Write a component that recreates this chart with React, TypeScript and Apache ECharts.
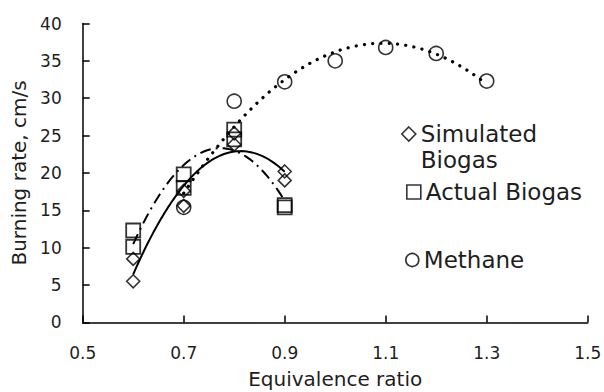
import React, { useEffect, useRef } from 'react';
import * as echarts from 'echarts';

// Data
const simulatedX = [0.6, 0.6, 0.7, 0.7, 0.8, 0.8, 0.9, 0.9];
const simulatedY = [5.5, 8.5, 15.6, 17.6, 23.8, 25.3, 20.2, 19.0];
const actualX = [0.6, 0.6, 0.7, 0.7, 0.8, 0.8, 0.9, 0.9];
const actualY = [10.1, 12.3, 18.0, 19.8, 24.5, 25.8, 15.4, 15.7];
const methaneX = [0.7, 0.8, 0.9, 1.0, 1.1, 1.2, 1.3];
const methaneY = [15.4, 29.6, 32.2, 35.0, 36.8, 36.0, 32.3];
const seriesNames = ['Simulated Biogas', 'Actual Biogas', 'Methane'];

// Least-squares 2nd-order polynomial trendline (as in the source spreadsheet)
function quadFit(xs: number[], ys: number[]): number[] {
  const S = [0, 0, 0, 0, 0];
  const T = [0, 0, 0];
  for (let i = 0; i < xs.length; i++) {
    for (let k = 0; k < 5; k++) S[k] += Math.pow(xs[i], k);
    for (let k = 0; k < 3; k++) T[k] += ys[i] * Math.pow(xs[i], k);
  }
  const M = [
    [S[0], S[1], S[2], T[0]],
    [S[1], S[2], S[3], T[1]],
    [S[2], S[3], S[4], T[2]],
  ];
  for (let c = 0; c < 3; c++) {
    for (let r = c + 1; r < 3; r++) {
      const f = M[r][c] / M[c][c];
      for (let k = c; k < 4; k++) M[r][k] -= f * M[c][k];
    }
  }
  const coef = [0, 0, 0];
  for (let r = 2; r >= 0; r--) {
    let s = M[r][3];
    for (let k = r + 1; k < 3; k++) s -= M[r][k] * coef[k];
    coef[r] = s / M[r][r];
  }
  return coef;
}

function trend(xs: number[], ys: number[]): number[][] {
  const c = quadFit(xs, ys);
  const lo = Math.min(...xs);
  const hi = Math.max(...xs);
  const pts: number[][] = [];
  const n = 60;
  for (let i = 0; i <= n; i++) {
    const x = lo + ((hi - lo) * i) / n;
    pts.push([x, c[0] + c[1] * x + c[2] * x * x]);
  }
  return pts;
}

const zip = (xs: number[], ys: number[]) => xs.map((x, i) => [x, ys[i]]);

const FONT = 'DejaVu Sans';
const INK = '#1e1e1e';

export default function App() {
  const ref = useRef<HTMLDivElement>(null);
  useEffect(() => {
    if (!ref.current) return;
    const chart = echarts.init(ref.current, undefined, { renderer: 'svg' });
    const markerStyle = { color: 'rgba(0,0,0,0)', borderColor: '#000', borderWidth: 1.6 };
    const legendBase = {
      orient: 'vertical' as const,
      padding: 0,
      itemGap: 0,
      selectedMode: false,
      itemStyle: { color: 'rgba(0,0,0,0)', borderColor: '#000', borderWidth: 1.6 },
      textStyle: { fontFamily: FONT, fontSize: 23, color: INK, lineHeight: 26 },
    };
    chart.setOption({
      animation: false,
      backgroundColor: '#fff',
      grid: {
        left: 82.7,
        right: 16.3,
        top: 23.5,
        bottom: 69.6,
        containLabel: false,
        outerBoundsMode: 'none',
      },
      xAxis: {
        type: 'value',
        min: 0.5,
        max: 1.5,
        interval: 0.2,
        name: 'Equivalence ratio',
        nameLocation: 'middle',
        nameGap: 46,
        nameTextStyle: { fontFamily: FONT, fontSize: 20, color: INK, lineHeight: 22 },
        axisLine: { lineStyle: { color: '#000', width: 1.5 } },
        axisTick: { show: true, inside: true, length: 7, lineStyle: { color: '#000', width: 1.5 } },
        axisLabel: { fontFamily: FONT, fontSize: 17, color: INK, margin: 22, formatter: (v: number) => v.toFixed(1) },
        splitLine: { show: false },
      },
      yAxis: {
        type: 'value',
        min: 0,
        max: 40,
        interval: 5,
        name: 'Burning rate, cm/s',
        nameLocation: 'middle',
        nameGap: 52,
        nameTextStyle: { fontFamily: FONT, fontSize: 20, color: INK },
        axisLine: { show: true, lineStyle: { color: '#000', width: 1.5 } },
        axisTick: { show: true, inside: true, length: 7, lineStyle: { color: '#000', width: 1.5 } },
        axisLabel: { fontFamily: FONT, fontSize: 17, color: INK, margin: 21 },
        splitLine: { show: false },
      },
      legend: [
        {
          ...legendBase,
          data: [seriesNames[0]],
          left: 401,
          top: 95,
          itemWidth: 14,
          itemHeight: 14,
          formatter: () => ' \nSimulated\nBiogas',
        },
        { ...legendBase, data: [seriesNames[1]], left: 406, top: 179, itemWidth: 14, itemHeight: 14 },
        { ...legendBase, data: [seriesNames[2]], left: 405, top: 247, itemWidth: 13, itemHeight: 13 },
      ],
      series: [
        {
          type: 'line',
          name: 'Simulated trend',
          data: trend(simulatedX, simulatedY),
          showSymbol: false,
          symbol: 'none',
          silent: true,
          lineStyle: { color: '#000', width: 2, type: 'solid' },
        },
        {
          type: 'line',
          name: 'Actual trend',
          data: trend(actualX, actualY),
          showSymbol: false,
          symbol: 'none',
          silent: true,
          lineStyle: { color: '#000', width: 2, type: [11, 5, 2, 5] },
        },
        {
          type: 'line',
          name: 'Methane trend',
          data: trend(methaneX, methaneY),
          showSymbol: false,
          symbol: 'none',
          silent: true,
          lineStyle: { color: '#000', width: 3.2, type: [0.1, 8.2], cap: 'round' },
        },
        {
          type: 'scatter',
          name: seriesNames[0],
          data: zip(simulatedX, simulatedY),
          symbol: 'diamond',
          symbolSize: 13,
          itemStyle: markerStyle,
        },
        {
          type: 'scatter',
          name: seriesNames[1],
          data: zip(actualX, actualY),
          symbol: 'rect',
          symbolSize: 14,
          itemStyle: { ...markerStyle, borderWidth: 1.8 },
        },
        {
          type: 'scatter',
          name: seriesNames[2],
          data: zip(methaneX, methaneY),
          symbol: 'circle',
          symbolSize: 14,
          itemStyle: markerStyle,
        },
      ],
    });
    return () => chart.dispose();
  }, []);
  return (
    <div
      ref={ref}
      style={{ position: 'fixed', left: 0, top: 0, width: 604, height: 392, background: '#fff' }}
    />
  );
}
